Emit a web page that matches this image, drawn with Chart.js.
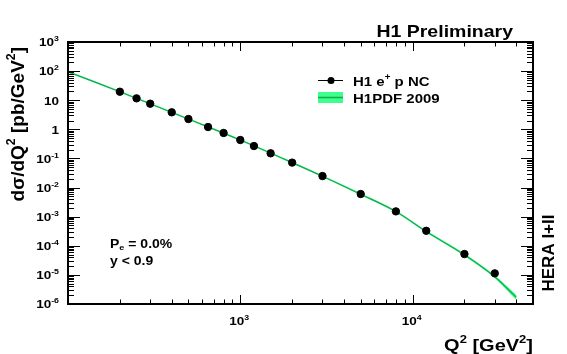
<!DOCTYPE html>
<html>
<head>
<meta charset="utf-8">
<script src="https://cdn.jsdelivr.net/npm/chart.js@4"></script>
<style>
  body { margin: 0; background: #fff; }
  canvas { display: block; }
</style>
</head>
<body>
<canvas id="myChart" width="567" height="354"></canvas>
<script>
"use strict";

// H1 e+p NC data
const q2Points = [200, 250, 300, 400, 500, 650, 800, 1000, 1200, 1500, 2000, 3000, 5000, 8000, 12000, 20000, 30000];
const xsecPoints = [19.6, 11.6, 7.6, 3.84, 2.26, 1.2, 0.75, 0.43, 0.267, 0.15, 0.072, 0.0248, 0.006, 0.00152, 0.000327, 0.000052, 0.0000113];

// H1PDF 2009 curve and its band
const q2Fit = [100, 150, 200, 300, 500, 1000, 2000, 3000, 5000, 8000, 12000, 20000, 30000, 40000];
const xsecFit = [95, 38, 19.6, 7.6, 2.26, 0.43, 0.072, 0.0245, 0.0059, 0.0015, 0.00031, 0.000049, 0.0000086, 0.0000017];
const xsecFitUp = [99, 39.5, 20.4, 7.9, 2.35, 0.447, 0.075, 0.0255, 0.0062, 0.00158, 0.000328, 0.0000525, 0.0000094, 0.000002];
const xsecFitLow = [91, 36.5, 18.8, 7.3, 2.17, 0.413, 0.069, 0.0235, 0.0056, 0.00142, 0.000292, 0.0000458, 0.0000078, 0.0000014];

// axis ticks (label = [base, exponent])
const yTicks = [1e3, 1e2, 10, 1, 0.1, 1e-2, 1e-3, 1e-4, 1e-5, 1e-6];
const yTickLabels = [["10", "3"], ["10", "2"], ["10", ""], ["1", ""], ["10", "-1"], ["10", "-2"], ["10", "-3"], ["10", "-4"], ["10", "-5"], ["10", "-6"]];
const xTicks = [1e3, 1e4];
const xTickLabels = [["10", "3"], ["10", "4"]];

const FONT = '"Liberation Sans", Arial, Helvetica, sans-serif';
const SQUASH = 0.86;
const bandColor = "rgb(60, 255, 140)";
const lineColor = "rgb(20, 170, 75)";

const toXY = (xs, ys) => xs.map((x, i) => ({ x: x, y: ys[i] }));

// draw text with superscripts / subscripts
function drawRich(ctx, parts, x, y, size, align, rotate, squash) {
  ctx.save();
  ctx.translate(x, y);
  if (rotate) ctx.rotate(rotate);
  if (squash) ctx.scale(1, squash);
  ctx.fillStyle = "#000";
  ctx.textBaseline = "alphabetic";
  let total = 0;
  const widths = parts.map((p) => {
    const s = p.sup || p.sub ? size * 0.65 : size;
    ctx.font = `bold ${s}px ${FONT}`;
    const w = ctx.measureText(p.t).width;
    total += w;
    return w;
  });
  let cx = 0;
  if (align === "right") cx = -total;
  if (align === "center") cx = -total / 2;
  parts.forEach((p, i) => {
    const s = p.sup || p.sub ? size * 0.65 : size;
    ctx.font = `bold ${s}px ${FONT}`;
    let dy = 0;
    if (p.sup) dy = -size * 0.45;
    if (p.sub) dy = size * 0.18;
    ctx.fillText(p.t, cx, dy);
    cx += widths[i];
  });
  ctx.restore();
}

function tickParts(label) {
  const parts = [{ t: label[0] }];
  if (label[1]) parts.push({ t: label[1], sup: true });
  return parts;
}

// frame, ticks, labels, legend, texts
const rootStyle = {
  id: "rootStyle",
  afterDraw(chart) {
    const ctx = chart.ctx;
    const a = chart.chartArea;
    const xs = chart.scales.x;
    const ys = chart.scales.y;

    ctx.save();
    ctx.strokeStyle = "#000";
    ctx.lineWidth = 1;
    ctx.beginPath();
    // y ticks, left and right
    for (let e = -6; e < 3; e++) {
      for (let m = 1; m <= 9; m++) {
        const py = Math.round(ys.getPixelForValue(m * Math.pow(10, e))) + 0.5;
        const len = m === 1 ? 12 : 6;
        ctx.moveTo(a.left, py);
        ctx.lineTo(a.left + len, py);
        ctx.moveTo(a.right, py);
        ctx.lineTo(a.right - len, py);
      }
    }
    // x ticks, bottom and top
    for (let e = 2; e <= 4; e++) {
      for (let m = 1; m <= 9; m++) {
        const v = m * Math.pow(10, e);
        if (v <= xs.min || v >= xs.max) continue;
        const px = Math.round(xs.getPixelForValue(v)) + 0.5;
        const len = m === 1 ? 9 : 4.5;
        ctx.moveTo(px, a.bottom);
        ctx.lineTo(px, a.bottom - len);
        ctx.moveTo(px, a.top);
        ctx.lineTo(px, a.top + len);
      }
    }
    ctx.stroke();

    // frame
    ctx.lineWidth = 2;
    ctx.strokeRect(a.left, a.top, a.right - a.left, a.bottom - a.top);
    ctx.restore();

    // tick labels
    yTicks.forEach((v, i) => {
      const py = ys.getPixelForValue(v);
      drawRich(ctx, tickParts(yTickLabels[i]), 59, py + 4.3, 13.5, "right", 0, SQUASH);
    });
    xTicks.forEach((v, i) => {
      const px = xs.getPixelForValue(v);
      drawRich(ctx, tickParts(xTickLabels[i]), px - 1, 325, 13.5, "center", 0, SQUASH);
    });

    // axis titles
    drawRich(ctx, [{ t: "d\u03c3/dQ" }, { t: "2", sup: true }, { t: " [pb/GeV" }, { t: "2", sup: true }, { t: "]" }],
      24, 47, 19, "right", -Math.PI / 2, 0);
    drawRich(ctx, [{ t: "Q" }, { t: "2", sup: true }, { t: " [GeV" }, { t: "2", sup: true }, { t: "]" }],
      a.right, 351, 20, "right", 0, SQUASH);

    // header and side text
    drawRich(ctx, [{ t: "H1 Preliminary" }], 513, 36.5, 19.5, "right", 0, SQUASH);
    drawRich(ctx, [{ t: "HERA I+II" }], 554, 253, 17, "center", -Math.PI / 2, 0);
    drawRich(ctx, [{ t: "P" }, { t: "e", sub: true }, { t: " = 0.0%" }], 110, 248, 14, "left", 0, SQUASH);
    drawRich(ctx, [{ t: "y < 0.9" }], 110, 265, 14, "left", 0, SQUASH);

    // legend
    ctx.save();
    ctx.strokeStyle = "#000";
    ctx.lineWidth = 1;
    ctx.beginPath();
    ctx.moveTo(318, 80.5);
    ctx.lineTo(343, 80.5);
    ctx.stroke();
    ctx.fillStyle = "#000";
    ctx.beginPath();
    ctx.arc(331, 80.5, 3.5, 0, Math.PI * 2);
    ctx.fill();
    ctx.fillStyle = bandColor;
    ctx.fillRect(318, 92, 25, 11);
    ctx.strokeStyle = lineColor;
    ctx.lineWidth = 1.5;
    ctx.beginPath();
    ctx.moveTo(318, 97.5);
    ctx.lineTo(343, 97.5);
    ctx.stroke();
    ctx.restore();
    drawRich(ctx, [{ t: "H1 e" }, { t: "+", sup: true }, { t: " p NC" }], 353, 86, 15, "left", 0, SQUASH);
    drawRich(ctx, [{ t: "H1PDF 2009" }], 353, 103, 15, "left", 0, SQUASH);
  },
};

const ctx = document.getElementById("myChart").getContext("2d");
const myChart = new Chart(ctx, {
  type: "scatter",
  data: {
    datasets: [
      {
        label: "H1 e+p NC",
        data: toXY(q2Points, xsecPoints),
        backgroundColor: "#000",
        borderColor: "#000",
        pointRadius: 3.7,
        showLine: false,
      },
      {
        label: "H1PDF 2009",
        data: toXY(q2Fit, xsecFit),
        borderColor: lineColor,
        borderWidth: 1.2,
        pointRadius: 0,
        showLine: true,
        cubicInterpolationMode: "monotone",
        fill: false,
      },
      {
        label: "band up",
        data: toXY(q2Fit, xsecFitUp),
        borderColor: bandColor,
        backgroundColor: bandColor,
        borderWidth: 0.5,
        pointRadius: 0,
        showLine: true,
        cubicInterpolationMode: "monotone",
        fill: "+1",
      },
      {
        label: "band low",
        data: toXY(q2Fit, xsecFitLow),
        borderColor: bandColor,
        borderWidth: 0.5,
        pointRadius: 0,
        showLine: true,
        cubicInterpolationMode: "monotone",
        fill: false,
      },
    ],
  },
  options: {
    responsive: false,
    animation: false,
    devicePixelRatio: 1,
    layout: { padding: { left: 68, top: 42, right: 34, bottom: 50 } },
    plugins: {
      legend: { display: false },
      tooltip: { enabled: false },
    },
    scales: {
      x: { type: "logarithmic", min: 100, max: 50000, display: false },
      y: { type: "logarithmic", min: 1e-6, max: 1e3, display: false },
    },
  },
  plugins: [rootStyle],
});
</script>
</body>
</html>
